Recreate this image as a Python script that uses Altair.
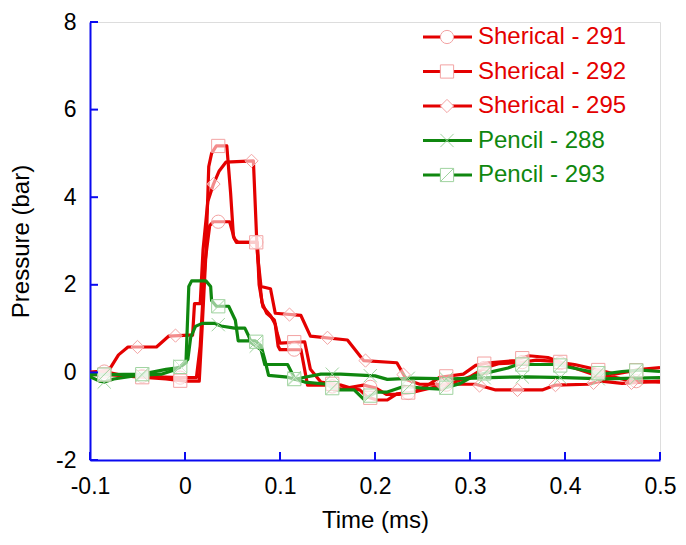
import altair as alt
import pandas as pd

# ---------------- data ----------------
names = ["Sherical - 291", "Sherical - 292", "Sherical - 295", "Pencil - 288", "Pencil - 293"]

x291 = [-0.100,-0.085,-0.070,-0.050,-0.030,-0.005,0.012,0.016,0.021,0.026,0.030,0.047,0.052,0.056,0.076,0.078,0.082,0.090,0.095,0.098,0.100,0.122,0.129,0.150,0.164,0.188,0.200,0.212,0.225,0.240,0.260,0.280,0.300,0.315,0.330,0.350,0.370,0.390,0.410,0.430,0.450,0.470,0.500]
y291 = [0.00,0.02,-0.05,-0.08,-0.10,-0.12,-0.12,0.60,2.50,3.35,3.44,3.44,3.05,2.97,2.97,2.00,1.50,1.30,1.10,0.60,0.52,0.52,-0.29,-0.29,-0.38,-0.29,-0.35,-0.50,-0.50,-0.45,-0.35,-0.25,-0.10,0.10,0.20,0.22,0.28,0.25,0.10,-0.05,-0.10,-0.20,-0.22]

x292 = [-0.100,-0.080,-0.050,-0.020,0.000,0.015,0.018,0.022,0.025,0.028,0.033,0.044,0.048,0.051,0.054,0.076,0.078,0.081,0.086,0.094,0.097,0.100,0.126,0.132,0.143,0.164,0.178,0.184,0.192,0.202,0.213,0.223,0.241,0.255,0.268,0.293,0.306,0.320,0.348,0.362,0.382,0.397,0.410,0.438,0.452,0.480,0.500]
y292 = [-0.05,-0.05,-0.10,-0.15,-0.20,-0.20,1.00,2.70,4.70,5.00,5.17,5.17,4.10,3.10,2.97,2.97,2.20,1.60,1.35,1.20,0.90,0.67,0.70,0.07,-0.22,-0.29,-0.38,-0.40,-0.56,-0.63,-0.63,-0.49,-0.45,-0.30,-0.11,-0.04,0.16,0.22,0.27,0.38,0.34,0.22,0.18,0.04,-0.04,0.07,0.11]

x295 = [-0.100,-0.080,-0.070,-0.060,-0.030,-0.017,0.004,0.008,0.010,0.016,0.019,0.024,0.030,0.036,0.043,0.072,0.076,0.080,0.090,0.095,0.122,0.132,0.171,0.188,0.223,0.233,0.247,0.306,0.327,0.376,0.390,0.424,0.438,0.460,0.500]
y295 = [0.00,0.05,0.40,0.58,0.58,0.83,0.85,0.85,1.57,1.57,2.80,3.90,4.30,4.60,4.80,4.83,2.76,1.96,1.91,1.35,1.30,0.83,0.74,0.27,0.22,-0.16,-0.27,-0.27,-0.40,-0.40,-0.29,-0.27,-0.20,-0.25,-0.20]

x288 = [-0.100,-0.090,-0.085,-0.075,-0.050,-0.025,-0.012,-0.004,0.003,0.006,0.011,0.018,0.031,0.038,0.052,0.063,0.067,0.070,0.080,0.084,0.108,0.116,0.126,0.143,0.164,0.200,0.213,0.240,0.280,0.320,0.360,0.400,0.440,0.500]
y288 = [-0.10,-0.20,-0.22,-0.15,-0.07,-0.04,0.05,0.15,0.30,0.80,1.05,1.12,1.12,1.06,1.01,1.01,0.83,0.67,0.52,0.18,0.18,-0.16,-0.11,-0.04,-0.04,-0.08,-0.16,-0.13,-0.15,-0.12,-0.10,-0.12,-0.15,-0.12]

x293 = [-0.100,-0.083,-0.045,-0.020,-0.006,0.001,0.004,0.007,0.022,0.027,0.028,0.033,0.046,0.053,0.056,0.074,0.080,0.084,0.088,0.108,0.126,0.150,0.157,0.178,0.188,0.202,0.213,0.230,0.250,0.270,0.290,0.305,0.320,0.340,0.350,0.390,0.420,0.440,0.460,0.480,0.500]
y293 = [-0.05,-0.05,-0.04,0.07,0.11,0.22,1.96,2.09,2.09,1.96,1.64,1.51,1.51,1.19,0.72,0.72,0.61,0.29,-0.07,-0.11,-0.22,-0.27,-0.40,-0.40,-0.61,-0.45,-0.45,-0.32,-0.36,-0.38,-0.25,-0.07,0.00,0.10,0.18,0.18,0.05,-0.04,0.02,0.05,0.02]

# marker positions
mx_a = [-0.085,-0.045,-0.005,0.035,0.075,0.115,0.155,0.195,0.235,0.275,0.315,0.355,0.395,0.435,0.475]
m291 = [0.02,-0.085,-0.12,3.44,2.97,0.52,-0.32,-0.33,-0.47,-0.28,0.10,0.235,0.21,-0.06,-0.20]
m292 = [-0.05,-0.11,-0.19,5.17,2.97,0.69,-0.26,-0.58,-0.46,-0.09,0.20,0.325,0.24,0.055,0.05]
m288 = [-0.22,-0.064,0.14,1.09,0.60,-0.12,-0.04,-0.075,-0.135,-0.148,-0.124,-0.103,-0.118,-0.146,-0.13]
m293 = [-0.05,-0.04,0.126,1.51,0.70,-0.153,-0.36,-0.53,-0.33,-0.35,-0.023,0.18,0.158,-0.018,0.043]
mx_b = [-0.05,-0.01,0.03,0.07,0.11,0.15,0.19,0.23,0.27,0.31,0.35,0.39,0.43,0.47]
m295 = [0.58,0.84,4.30,4.83,1.32,0.79,0.27,-0.05,-0.27,-0.30,-0.40,-0.29,-0.24,-0.24]

x_ticks = [-0.1, 0.0, 0.1, 0.2, 0.3, 0.4, 0.5]
y_ticks = [-2, 0, 2, 4, 6, 8]

# ---------------- styles ----------------
RED = "#e40000"
GREEN = "#0f870f"
RED_L = "#f3a3a3"
GREEN_L = "#9fd39f"
BLUE = "#0a0af0"
FONT = "Liberation Sans"
line_colors = [RED, RED, RED, GREEN, GREEN]
marker_colors = [RED_L, RED_L, RED_L, GREEN_L, GREEN_L]
shapes = ["circle", "square", "diamond",
          "M-1,-1L1,1M-1,1L1,-1",
          "M-1,-1L1,-1L1,1L-1,1ZM-1,1L1,-1"]

# ---------------- tables ----------------
series = [(x291, y291), (x292, y292), (x295, y295), (x288, y288), (x293, y293)]
frames = []
for n, (xs, ys) in zip(names, series):
    f = pd.DataFrame({"x": xs, "y": ys})
    f["series"] = n
    f["i"] = range(len(f))
    frames.append(f)
lines_df = pd.concat(frames, ignore_index=True)

marks = [(mx_a, m291), (mx_a, m292), (mx_b, m295), (mx_a, m288), (mx_a, m293)]
mframes = []
for n, (xs, ys) in zip(names, marks):
    f = pd.DataFrame({"x": xs, "y": ys})
    f["series"] = n
    mframes.append(f)
marks_df = pd.concat(mframes, ignore_index=True)

W, H = 570, 438
PAD_L, PAD_T = 82, 14
XMIN, XMAX, YMIN, YMAX = -0.1, 0.5, -2, 8


def px2x(p):
    return XMIN + p / W * (XMAX - XMIN)


def px2y(p):
    return YMAX - p / H * (YMAX - YMIN)


leg_df = pd.DataFrame({
    "series": names,
    "ly": [px2y(15 + 34.5 * k) for k in range(len(names))],
})
leg_df["lx1"] = px2x(333)
leg_df["lx2"] = px2x(382)
leg_df["lxm"] = px2x(357)
leg_df["lxt"] = px2x(388)

xscale = alt.Scale(domain=[XMIN, XMAX], nice=False, zero=False)
yscale = alt.Scale(domain=[YMIN, YMAX], nice=False, zero=False)
color_scale = alt.Scale(domain=names, range=line_colors)
stroke_scale = alt.Scale(domain=names, range=marker_colors)
shape_scale = alt.Scale(domain=names, range=shapes)

xaxis = alt.Axis(values=x_ticks, title="Time (ms)", grid=False, ticks=False, tickSize=0,
                 domainColor=BLUE, domainWidth=2, labelFlush=False, labelOverlap=False,
                 labelExpr="datum.value < 0 ? '-' + format(-datum.value, '.1f') : (abs(datum.value) < 1e-9 ? '0' : format(datum.value, '.1f'))",
                 labelFont=FONT, labelFontSize=23, labelColor="black", labelPadding=15,
                 titleFont=FONT, titleFontSize=24, titleFontWeight="normal", titleColor="black",
                 titlePadding=10)
yaxis = alt.Axis(values=y_ticks, title="Pressure (bar)", grid=False, ticks=False, tickSize=0,
                 domainColor=BLUE, domainWidth=2, labelFlush=False, labelOverlap=False,
                 labelExpr="datum.value < 0 ? '-' + format(-datum.value, 'd') : format(datum.value, 'd')",
                 labelFont=FONT, labelFontSize=23, labelColor="black", labelPadding=14,
                 titleFont=FONT, titleFontSize=24, titleFontWeight="normal", titleColor="black",
                 titlePadding=22)

lines = alt.Chart(lines_df).mark_line(strokeWidth=3.2, strokeJoin="round", clip=True).encode(
    x=alt.X("x:Q", scale=xscale, axis=xaxis),
    y=alt.Y("y:Q", scale=yscale, axis=yaxis),
    color=alt.Color("series:N", scale=color_scale, legend=None),
    order="i:Q",
)

markers = alt.Chart(marks_df).mark_point(filled=False, fill="white", fillOpacity=0.55,
                                         strokeWidth=1, size=175, opacity=1).encode(
    x="x:Q",
    y="y:Q",
    stroke=alt.Stroke("series:N", scale=stroke_scale, legend=None),
    shape=alt.Shape("series:N", scale=shape_scale, legend=None),
)

ytick_df = pd.DataFrame({"v": y_ticks})
xtick_df = pd.DataFrame({"v": x_ticks})
yticks = alt.Chart(ytick_df).mark_rule(color=BLUE, strokeWidth=2).encode(
    y="v:Q", x=alt.value(0), x2=alt.value(8))
xticks = alt.Chart(xtick_df).mark_rule(color=BLUE, strokeWidth=2).encode(
    x="v:Q", y=alt.value(H), y2=alt.value(H - 8))

leg_lines = alt.Chart(leg_df).mark_rule(strokeWidth=3.2).encode(
    x="lx1:Q", x2="lx2:Q", y="ly:Q",
    color=alt.Color("series:N", scale=color_scale, legend=None))
leg_marks = alt.Chart(leg_df).mark_point(filled=False, fill="white", fillOpacity=1,
                                         strokeWidth=1, size=175).encode(
    x="lxm:Q", y="ly:Q",
    stroke=alt.Stroke("series:N", scale=stroke_scale, legend=None),
    shape=alt.Shape("series:N", scale=shape_scale, legend=None))
leg_text = alt.Chart(leg_df).mark_text(align="left", baseline="middle", font=FONT,
                                       fontSize=24).encode(
    x="lxt:Q", y="ly:Q", text="series:N",
    color=alt.Color("series:N", scale=color_scale, legend=None))

chart = alt.layer(lines, markers, yticks, xticks, leg_lines, leg_marks, leg_text).properties(
    width=W, height=H,
    autosize=alt.AutoSizeParams(type="none"),
    padding={"left": PAD_L, "top": PAD_T, "right": 670 - PAD_L - W, "bottom": 529 - PAD_T - H},
).configure_view(stroke=None).configure(background="white")

chart.save("out.html", embed_options={"renderer": "svg", "actions": False})
